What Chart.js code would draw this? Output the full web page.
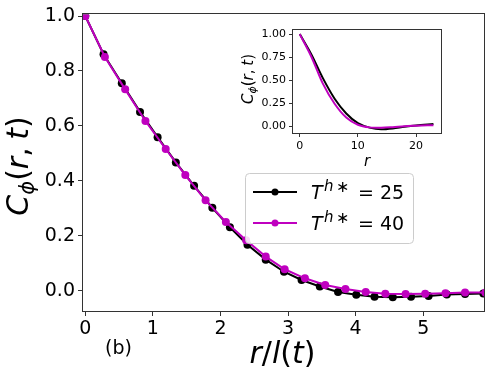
<!DOCTYPE html>
<html>
<head>
<meta charset="utf-8">
<script src="https://cdn.jsdelivr.net/npm/chart.js@4"></script>
<style>
    html, body { margin: 0; padding: 0; background: #fff; }
    #wrap { position: relative; width: 489px; height: 378px; }
    #main { position: absolute; left: 0; top: 0; }
    #inset { position: absolute; left: 235px; top: 20px; }
</style>
</head>
<body>
<div id="wrap">
    <canvas id="main" width="489" height="378"></canvas>
    <canvas id="inset" width="211" height="150"></canvas>
</div>
<script>
// ════════════════════════════════════════
// DATA
// ════════════════════════════════════════

// main panel: C(r,t) vs r/l(t)
const T25_X = [0, 0.27, 0.54, 0.81, 1.07, 1.34, 1.61, 1.88, 2.14, 2.40, 2.67, 2.94, 3.20, 3.47, 3.74, 4.01, 4.28, 4.55, 4.82, 5.08, 5.35, 5.62, 5.89];
const T25_Y = [1.0, 0.861, 0.755, 0.651, 0.559, 0.467, 0.382, 0.302, 0.231, 0.167, 0.113, 0.069, 0.039, 0.015, -0.005, -0.015, -0.022, -0.024, -0.022, -0.019, -0.014, -0.012, -0.010];

const T40_X = [0, 0.29, 0.59, 0.89, 1.19, 1.48, 1.78, 2.08, 2.38, 2.67, 2.95, 3.25, 3.55, 3.85, 4.15, 4.44, 4.74, 5.03, 5.33, 5.62, 5.92];
const T40_Y = [1.0, 0.851, 0.733, 0.618, 0.516, 0.421, 0.329, 0.250, 0.184, 0.124, 0.078, 0.045, 0.021, 0.006, -0.005, -0.011, -0.012, -0.011, -0.009, -0.007, -0.007];

// inset: C(r,t) vs r (unscaled)
const INSET_R = [0, 2, 4, 6, 8, 10, 12, 14, 16, 18, 20, 23];
const INSET_T25 = [1.0, 0.78, 0.52, 0.30, 0.14, 0.035, -0.014, -0.032, -0.023, -0.005, 0.010, 0.026];
const INSET_T40 = [1.0, 0.755, 0.46, 0.245, 0.095, 0.017, -0.011, -0.016, -0.009, 0.002, 0.007, 0.013];

const LEGEND_VALUES = ['25', '40'];

const X_TICKS = [0, 1, 2, 3, 4, 5];
const Y_TICKS = [0, 0.2, 0.4, 0.6, 0.8, 1.0];
const INSET_X_TICKS = [0, 10, 20];
const INSET_Y_TICKS = [0, 0.25, 0.5, 0.75, 1.0];

// ════════════════════════════════════════
// STYLE
// ════════════════════════════════════════

const FONT = "'DejaVu Sans', sans-serif";
const BLACK = '#000000';
const MAGENTA = '#bf00bf';
const SPINE = '#333333';

function pairs(xs, ys) {
    return xs.map((x, i) => ({ x, y: ys[i] }));
}

function segFont(s) {
    return (s.italic ? 'italic ' : '') + s.size + 'px ' + FONT;
}

function richWidth(ctx, segs) {
    let w = 0;
    segs.forEach(s => {
        ctx.font = segFont(s);
        w += (s.gap || 0) + ctx.measureText(s.t).width;
    });
    return w;
}

function drawRich(ctx, segs, x, y) {
    let cx = x;
    segs.forEach(s => {
        cx += s.gap || 0;
        ctx.font = segFont(s);
        ctx.fillText(s.t, cx, y + (s.dy || 0));
        cx += ctx.measureText(s.t).width;
    });
}

// C_φ(r, t) as mathtext-like segments
function corrLabel(size) {
    const sub = Math.round(size * 0.7);
    return [
        { t: 'C', size, italic: true },
        { t: 'ϕ', size: sub, italic: true, dy: size * 0.2 },
        { t: '(', size },
        { t: 'r', size, italic: true },
        { t: ',', size },
        { t: 't', size, italic: true, gap: size * 0.25 },
        { t: ')', size },
    ];
}

const framePlugin = {
    id: 'frame',
    afterDatasetsDraw(chart) {
        const { ctx, chartArea: a } = chart;
        ctx.save();
        ctx.strokeStyle = SPINE;
        ctx.lineWidth = 1;
        ctx.strokeRect(Math.round(a.left) - 0.5, Math.round(a.top) - 0.5,
            Math.round(a.right - a.left) + 1, Math.round(a.bottom - a.top) + 1);
        ctx.restore();
    },
};

// ════════════════════════════════════════
// MAIN PANEL
// ════════════════════════════════════════

const mainLabels = {
    id: 'mainLabels',
    afterDraw(chart) {
        const ctx = chart.ctx;
        ctx.save();
        ctx.fillStyle = '#000';
        ctx.textBaseline = 'alphabetic';

        // x title
        const xt = [
            { t: 'r', size: 30, italic: true },
            { t: '/', size: 30 },
            { t: 'l', size: 30, italic: true },
            { t: '(', size: 30 },
            { t: 't', size: 30, italic: true },
            { t: ')', size: 30 },
        ];
        drawRich(ctx, xt, 282.5 - richWidth(ctx, xt) / 2, 363);

        // panel tag
        drawRich(ctx, [{ t: '(b)', size: 19 }], 105, 354);

        // y title
        const yt = corrLabel(30);
        ctx.translate(28, 166);
        ctx.rotate(-Math.PI / 2);
        drawRich(ctx, yt, -richWidth(ctx, yt) / 2, 0);
        ctx.restore();

        // legend
        const bx = 245, by = 173, bw = 168, bh = 70;
        ctx.save();
        ctx.beginPath();
        ctx.roundRect(bx + 0.5, by + 0.5, bw, bh, 4);
        ctx.fillStyle = 'rgba(255,255,255,0.85)';
        ctx.fill();
        ctx.strokeStyle = '#cccccc';
        ctx.lineWidth = 1;
        ctx.stroke();

        const rows = [
            { color: BLACK, y: 192, val: LEGEND_VALUES[0] },
            { color: MAGENTA, y: 223, val: LEGEND_VALUES[1] },
        ];
        rows.forEach(r => {
            ctx.strokeStyle = r.color;
            ctx.lineWidth = 2;
            ctx.beginPath();
            ctx.moveTo(253, r.y);
            ctx.lineTo(297, r.y);
            ctx.stroke();
            ctx.fillStyle = r.color;
            ctx.beginPath();
            ctx.arc(275, r.y, 3.5, 0, Math.PI * 2);
            ctx.fill();

            ctx.fillStyle = '#000';
            const tx = 311;
            const base = r.y + 7;
            drawRich(ctx, [{ t: 'T', size: 19, italic: true }], tx, base);
            drawRich(ctx, [{ t: 'h', size: 15, italic: true }], tx + 13, base - 8);
            drawRich(ctx, [{ t: '∗', size: 16 }], tx + 25, base - 7);
            drawRich(ctx, [{ t: '=', size: 19 }], tx + 47, base);
            drawRich(ctx, [{ t: r.val, size: 19 }], tx + 69, base);
        });
        ctx.restore();
    },
};

new Chart(document.getElementById('main'), {
    type: 'line',
    data: {
        datasets: [
            {
                label: 'T=40',
                data: pairs(T40_X, T40_Y),
                borderColor: MAGENTA,
                backgroundColor: MAGENTA,
                borderWidth: 2,
                pointRadius: 4,
                pointBorderWidth: 0,
                tension: 0,
                clip: 0,
                order: 1,
            },
            {
                label: 'T=25',
                data: pairs(T25_X, T25_Y),
                borderColor: BLACK,
                backgroundColor: BLACK,
                borderWidth: 2,
                pointRadius: 4,
                pointBorderWidth: 0,
                tension: 0,
                clip: 0,
                order: 2,
            },
        ],
    },
    options: {
        responsive: false,
        animation: false,
        devicePixelRatio: 1,
        layout: { padding: { left: 0, right: 5, top: 14, bottom: 0 } },
        plugins: { legend: { display: false }, tooltip: { enabled: false } },
        scales: {
            x: {
                type: 'linear',
                min: -0.034,
                max: 5.9,
                afterBuildTicks: s => { s.ticks = X_TICKS.map(v => ({ value: v })); },
                afterFit: s => { s.height = 67; },
                ticks: {
                    font: { family: FONT, size: 19 },
                    color: '#000',
                    padding: 2,
                    maxRotation: 0,
                    autoSkip: false,
                    callback: v => v.toFixed(0),
                },
                grid: { drawOnChartArea: false, tickLength: 5, color: SPINE },
                border: { display: false },
            },
            y: {
                type: 'linear',
                min: -0.074,
                max: 1.006,
                afterBuildTicks: s => { s.ticks = Y_TICKS.map(v => ({ value: v })); },
                afterFit: s => { s.width = 83; },
                ticks: {
                    font: { family: FONT, size: 19 },
                    color: '#000',
                    padding: 3,
                    autoSkip: false,
                    callback: v => v.toFixed(1),
                },
                grid: { drawOnChartArea: false, tickLength: 5, color: SPINE },
                border: { display: false },
            },
        },
    },
    plugins: [framePlugin, mainLabels],
});

// ════════════════════════════════════════
// INSET
// ════════════════════════════════════════

const insetLabels = {
    id: 'insetLabels',
    afterDraw(chart) {
        const ctx = chart.ctx;
        ctx.save();
        ctx.fillStyle = '#000';
        ctx.textBaseline = 'alphabetic';
        const xt = [{ t: 'r', size: 15, italic: true }];
        drawRich(ctx, xt, 132 - richWidth(ctx, xt) / 2, 146);

        const yt = corrLabel(15);
        ctx.translate(18, 59);
        ctx.rotate(-Math.PI / 2);
        drawRich(ctx, yt, -richWidth(ctx, yt) / 2, 0);
        ctx.restore();
    },
};

const insetBg = {
    id: 'insetBg',
    beforeDraw(chart) {
        const { ctx, chartArea: a } = chart;
        ctx.save();
        ctx.fillStyle = '#fff';
        ctx.fillRect(a.left, a.top, a.right - a.left, a.bottom - a.top);
        ctx.restore();
    },
};

new Chart(document.getElementById('inset'), {
    type: 'line',
    data: {
        datasets: [
            {
                data: pairs(INSET_R, INSET_T40),
                borderColor: MAGENTA,
                borderWidth: 2,
                pointRadius: 0,
                cubicInterpolationMode: 'monotone',
                order: 1,
            },
            {
                data: pairs(INSET_R, INSET_T25),
                borderColor: BLACK,
                borderWidth: 2,
                pointRadius: 0,
                cubicInterpolationMode: 'monotone',
                order: 2,
            },
        ],
    },
    options: {
        responsive: false,
        animation: false,
        devicePixelRatio: 1,
        layout: { padding: { left: 0, right: 5, top: 4, bottom: 0 } },
        plugins: { legend: { display: false }, tooltip: { enabled: false } },
        scales: {
            x: {
                type: 'linear',
                min: -1.16,
                max: 24.3,
                afterBuildTicks: s => { s.ticks = INSET_X_TICKS.map(v => ({ value: v })); },
                afterFit: s => { s.height = 37; },
                ticks: {
                    font: { family: FONT, size: 11 },
                    color: '#000',
                    padding: 3,
                    maxRotation: 0,
                    autoSkip: false,
                    callback: v => v.toFixed(0),
                },
                grid: { drawOnChartArea: false, tickLength: 4, color: SPINE },
                border: { display: false },
            },
            y: {
                type: 'linear',
                min: -0.072,
                max: 1.049,
                afterBuildTicks: s => { s.ticks = INSET_Y_TICKS.map(v => ({ value: v })); },
                afterFit: s => { s.width = 58; },
                ticks: {
                    font: { family: FONT, size: 11 },
                    color: '#000',
                    padding: 3,
                    autoSkip: false,
                    callback: v => v.toFixed(2),
                },
                grid: { drawOnChartArea: false, tickLength: 4, color: SPINE },
                border: { display: false },
            },
        },
    },
    plugins: [insetBg, framePlugin, insetLabels],
});
</script>
</body>
</html>
